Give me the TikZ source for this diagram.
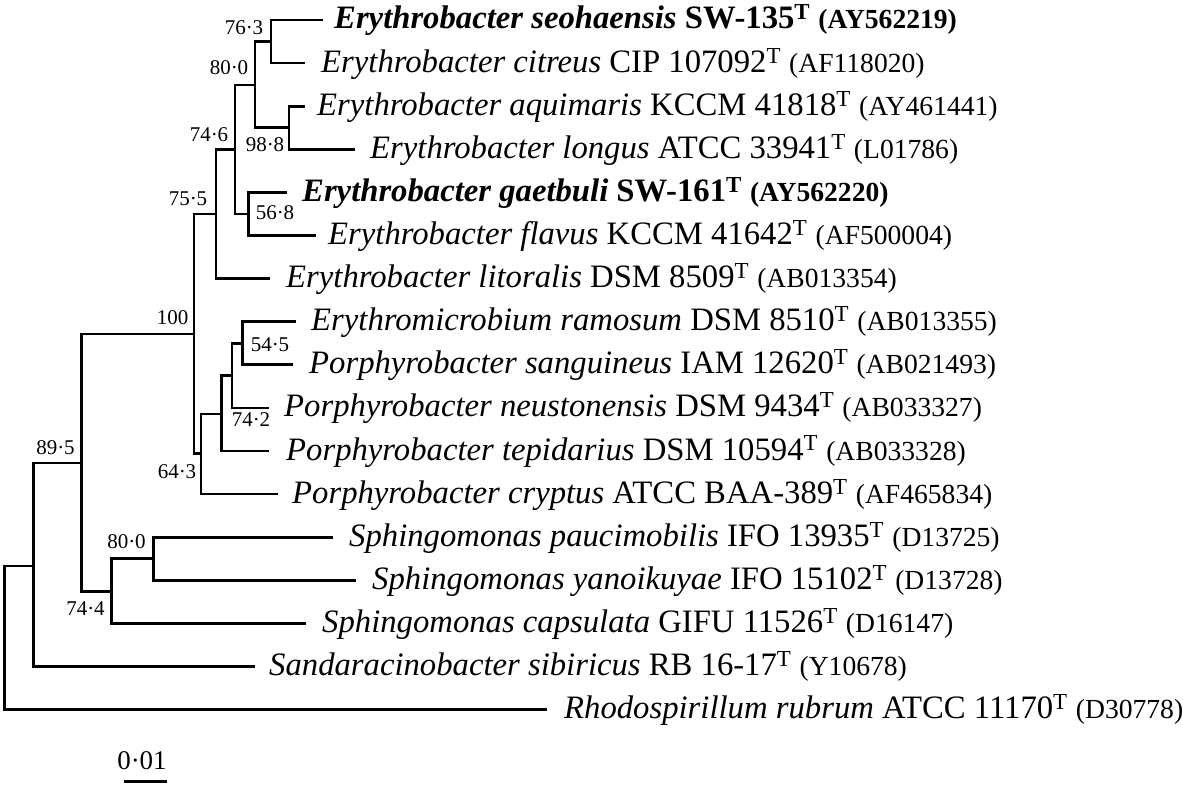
\documentclass[tikz,border=0pt]{standalone}
\usepackage{fontspec}
\setmainfont{Liberation Serif}
\usetikzlibrary{calc}
% type-strain mark and GenBank accession numbers
\newcommand\tsup{\textsuperscript{T}}
\newcommand\acc[1]{{\fontsize{27.6}{30}\selectfont #1}}

\begin{document}
\begin{tikzpicture}[x=1pt, y=-1pt,
  branch/.style={line width=2.7pt, line join=miter},
  leaf/.style={anchor=base west, inner sep=0pt, font=\fontsize{32.7}{36}\selectfont},
  boot/.style={inner sep=0pt, font=\fontsize{21}{24}\selectfont},
  scalelabel/.style={inner sep=0pt, font=\fontsize{27}{30}\selectfont}]

\fill[white] (0,0) rectangle (1183,789);
\useasboundingbox (0,0) rectangle (1183,789);

% ---- tips (end of terminal branches) ----
\coordinate (t1)  at (323, 20.0);
\coordinate (t2)  at (305, 63.1);
\coordinate (t3)  at (305, 106.2);
\coordinate (t4)  at (355, 149.3);
\coordinate (t5)  at (287, 192.4);
\coordinate (t6)  at (316, 235.5);
\coordinate (t7)  at (270, 278.6);
\coordinate (t8)  at (296, 321.7);
\coordinate (t9)  at (293, 364.8);
\coordinate (t10) at (269, 407.9);
\coordinate (t11) at (269, 451.0);
\coordinate (t12) at (278, 494.1);
\coordinate (t13) at (333, 537.2);
\coordinate (t14) at (356, 580.3);
\coordinate (t15) at (306, 623.4);
\coordinate (t16) at (255, 666.5);
\coordinate (t17) at (547, 709.6);

% ---- internal nodes ----
\coordinate (root)  at (4.3, 638.0);
\coordinate (nA)    at (33.3, 566.0);
\coordinate (n895)  at (81.7, 463.0);
\coordinate (n100)  at (194, 334.0);
\coordinate (n755)  at (216, 214.0);
\coordinate (n746)  at (235, 149.7);
\coordinate (n800)  at (255, 85.0);
\coordinate (n763)  at (271, 41.5);
\coordinate (n988)  at (289, 127.7);
\coordinate (n568)  at (248.3, 214.0);
\coordinate (n643)  at (201, 453.8);
\coordinate (n742)  at (221.7, 414.0);
\coordinate (nB)    at (232, 375.5);
\coordinate (n545)  at (242.3, 343.3);
\coordinate (n744)  at (111.7, 591.8);
\coordinate (n800s) at (153.3, 558.8);

% ---- branches ----
\draw[branch] (root) |- (nA);   \draw[branch] (root) |- (t17);
\draw[branch] (nA) |- (n895);   \draw[branch] (nA) |- (t16);
\draw[branch] (n895) |- (n100); \draw[branch] (n895) |- (n744);
\draw[branch] (n100) |- (n755); \draw[branch] (n100) |- (n643);
\draw[branch] (n755) |- (n746); \draw[branch] (n755) |- (t7);
\draw[branch] (n746) |- (n800); \draw[branch] (n746) |- (n568);
\draw[branch] (n800) |- (n763); \draw[branch] (n800) |- (n988);
\draw[branch] (n763) |- (t1);   \draw[branch] (n763) |- (t2);
\draw[branch] (n988) |- (t3);   \draw[branch] (n988) |- (t4);
\draw[branch] (n568) |- (t5);   \draw[branch] (n568) |- (t6);
\draw[branch] (n643) |- (n742); \draw[branch] (n643) |- (t12);
\draw[branch] (n742) |- (nB);   \draw[branch] (n742) |- (t11);
\draw[branch] (nB) |- (n545);   \draw[branch] (nB) |- (t10);
\draw[branch] (n545) |- (t8);   \draw[branch] (n545) |- (t9);
\draw[branch] (n744) |- (n800s);\draw[branch] (n744) |- (t15);
\draw[branch] (n800s) |- (t13); \draw[branch] (n800s) |- (t14);

% ---- taxon labels ----
\node[leaf] (s1)  at ([shift={(11,9)}]t1)  {\bfseries\textit{Erythrobacter seohaensis} SW-135\tsup\ \acc{(AY562219)}};
\node[leaf] (s2)  at ([shift={(16,9)}]t2)  {\textit{Erythrobacter citreus} CIP 107092\tsup\ \acc{(AF118020)}};
\node[leaf] (s3)  at ([shift={(12,9)}]t3)  {\textit{Erythrobacter aquimaris} KCCM 41818\tsup\ \acc{(AY461441)}};
\node[leaf] (s4)  at ([shift={(15,9)}]t4)  {\textit{Erythrobacter longus} ATCC 33941\tsup\ \acc{(L01786)}};
\node[leaf] (s5)  at ([shift={(15,9)}]t5)  {\bfseries\textit{Erythrobacter gaetbuli} SW-161\tsup\ \acc{(AY562220)}};
\node[leaf] (s6)  at ([shift={(12,9)}]t6)  {\textit{Erythrobacter flavus} KCCM 41642\tsup\ \acc{(AF500004)}};
\node[leaf] (s7)  at ([shift={(16,9)}]t7)  {\textit{Erythrobacter litoralis} DSM 8509\tsup\ \acc{(AB013354)}};
\node[leaf] (s8)  at ([shift={(15,9)}]t8)  {\textit{Erythromicrobium ramosum} DSM 8510\tsup\ \acc{(AB013355)}};
\node[leaf] (s9)  at ([shift={(16,9)}]t9)  {\textit{Porphyrobacter sanguineus} IAM 12620\tsup\ \acc{(AB021493)}};
\node[leaf] (s10) at ([shift={(15,9)}]t10) {\textit{Porphyrobacter neustonensis} DSM 9434\tsup\ \acc{(AB033327)}};
\node[leaf] (s11) at ([shift={(17,9)}]t11) {\textit{Porphyrobacter tepidarius} DSM 10594\tsup\ \acc{(AB033328)}};
\node[leaf] (s12) at ([shift={(14,9)}]t12) {\textit{Porphyrobacter cryptus} ATCC BAA-389\tsup\ \acc{(AF465834)}};
\node[leaf] (s13) at ([shift={(16,9)}]t13) {\textit{Sphingomonas paucimobilis} IFO 13935\tsup\ \acc{(D13725)}};
\node[leaf] (s14) at ([shift={(16,9)}]t14) {\textit{Sphingomonas yanoikuyae} IFO 15102\tsup\ \acc{(D13728)}};
\node[leaf] (s15) at ([shift={(16,9)}]t15) {\textit{Sphingomonas capsulata} GIFU 11526\tsup\ \acc{(D16147)}};
\node[leaf] (s16) at ([shift={(14,9)}]t16) {\textit{Sandaracinobacter sibiricus} RB 16-17\tsup\ \acc{(Y10678)}};
\node[leaf] (s17) at ([shift={(17,9)}]t17) {\textit{Rhodospirillum rubrum} ATCC 11170\tsup\ \acc{(D30778)}};

% ---- bootstrap values ----
\node[boot] (b763)  at (244, 28)    {76·3};
\node[boot] (b800)  at (229, 67.5)  {80·0};
\node[boot] (b746)  at (209, 135)   {74·6};
\node[boot] (b988)  at (265, 144.5) {98·8};
\node[boot] (b568)  at (275, 213)   {56·8};
\node[boot] (b755)  at (188, 199)   {75·5};
\node[boot] (b100)  at (172.5, 318) {100};
\node[boot] (b545)  at (270, 344.5) {54·5};
\node[boot] (b742)  at (251, 420)   {74·2};
\node[boot] (b643)  at (177, 471.5) {64·3};
\node[boot] (b895)  at (55.5, 447.5){89·5};
\node[boot] (b800s) at (126.5, 542) {80·0};
\node[boot] (b744)  at (85.5, 608.5){74·4};

% ---- scale bar ----
\coordinate (sbL) at (124.3, 781.7);
\coordinate (sbR) at (166.7, 781.7);
\draw[branch] (sbL) -- (sbR);
\node[scalelabel] (sbT) at (142, 761) {0·01};
\end{tikzpicture}
\end{document}
